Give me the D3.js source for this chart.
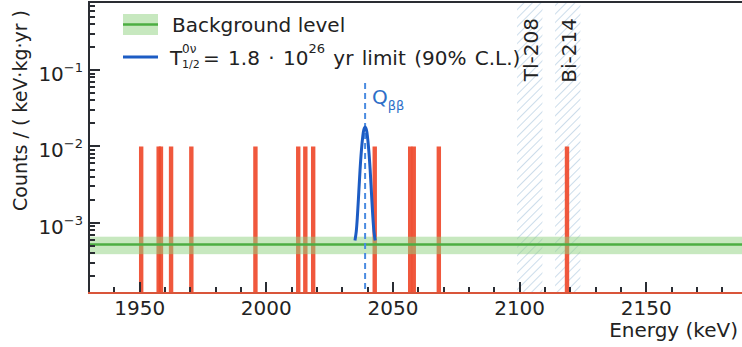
<!DOCTYPE html>
<html lang="en">
<head>
  <meta charset="UTF-8">
  <title>Energy spectrum</title>
  <style>
    body { margin: 0; background: #fff; }
    svg { display: block; font-family: "DejaVu Sans", sans-serif; }
  </style>
</head>
<body>
  <svg id="chart" width="742" height="347"></svg>
  <script src="https://d3js.org/d3.v7.min.js"></script>
  <script>
    // event energies (keV), each drawn as a bin reaching 1e-2
    const eventEnergies = [1950.6, 1957.5, 1958.4, 1962.4, 1970.4, 1995.7, 2012.6, 2015.4, 2018.5,
                           2042.8, 2056.8, 2058.2, 2068.1, 2118.7];
    const eventHeight = 1e-2;

    // background level with its band
    const bkgLevel = 5.2e-4;
    const bkgHigh = 6.6e-4;
    const bkgLow = 3.9e-4;

    // signal limit curve
    const peakEnergy = [2035, 2035.5, 2036, 2036.5, 2037, 2037.5, 2038, 2038.5, 2039,
                        2039.5, 2040, 2040.5, 2041, 2041.5, 2042, 2042.5, 2043];
    const peakCounts = [0.00059, 0.00077, 0.00128, 0.0025, 0.0049, 0.0085, 0.0128, 0.0166, 0.018,
                        0.0166, 0.0128, 0.0085, 0.0049, 0.0025, 0.00128, 0.00077, 0.00059];
    const qbb = 2039;

    // excluded gamma lines
    const vetoLabels = ["Tl-208", "Bi-214"];
    const vetoLow = [2099, 2114];
    const vetoHigh = [2109, 2124];

    const xMajorTicks = [1950, 2000, 2050, 2100, 2150];
    const yMajorTicks = [1e-3, 1e-2, 1e-1];
    const yTickExponents = ["\u22123", "\u22122", "\u22121"];

    const svg = d3.select("#chart");
    const pLeft = 89, pTop = 2, pBottom = 293, pRight = 747.6;
    const ink = "#222";
    const axisInk = "#2a2d33";

    const x = d3.scaleLinear().domain([1930, 2190]).range([pLeft, pRight]);
    const y = d3.scaleLog().domain([1.21e-4, 0.778]).range([pBottom, pTop]);

    const defs = svg.append("defs");
    const pat = defs.append("pattern")
      .attr("id", "hatch")
      .attr("patternUnits", "userSpaceOnUse")
      .attr("width", 6).attr("height", 6)
      .attr("patternTransform", "rotate(45)");
    pat.append("line")
      .attr("x1", 0).attr("y1", 0).attr("x2", 0).attr("y2", 6)
      .attr("stroke", "#a9c6de").attr("stroke-width", 1.2);

    defs.append("clipPath").attr("id", "plot")
      .append("rect").attr("x", pLeft).attr("y", pTop)
      .attr("width", pRight - pLeft).attr("height", pBottom - pTop);

    const plot = svg.append("g").attr("clip-path", "url(#plot)");

    // hatched veto bands
    plot.selectAll(".veto")
      .data(vetoLabels)
      .join("rect")
      .attr("class", "veto")
      .attr("x", (d, i) => x(vetoLow[i]))
      .attr("width", (d, i) => x(vetoHigh[i]) - x(vetoLow[i]))
      .attr("y", pTop)
      .attr("height", pBottom - pTop)
      .attr("fill", "url(#hatch)");

    // events
    plot.selectAll(".event")
      .data(eventEnergies)
      .join("rect")
      .attr("class", "event")
      .attr("x", d => x(d) - 2.2)
      .attr("width", 4.4)
      .attr("y", y(eventHeight))
      .attr("height", pBottom - y(eventHeight))
      .attr("fill", "#ef4a2c")
      .attr("opacity", 0.92);

    // background band and line
    plot.append("rect")
      .attr("x", pLeft).attr("width", pRight - pLeft)
      .attr("y", y(bkgHigh)).attr("height", y(bkgLow) - y(bkgHigh))
      .attr("fill", "#8fd27f").attr("opacity", 0.5);
    plot.append("line")
      .attr("x1", pLeft).attr("x2", pRight)
      .attr("y1", y(bkgLevel)).attr("y2", y(bkgLevel))
      .attr("stroke", "#4cae42").attr("stroke-width", 2.5);

    // Q value marker
    plot.append("line")
      .attr("x1", x(qbb)).attr("x2", x(qbb))
      .attr("y1", 83).attr("y2", pBottom)
      .attr("stroke", "#4a8be0").attr("stroke-width", 2)
      .attr("stroke-dasharray", "6,4");

    // limit curve
    const line = d3.line()
      .x((d, i) => x(peakEnergy[i]))
      .y(d => y(d))
      .curve(d3.curveCatmullRom);
    plot.append("path")
      .datum(peakCounts)
      .attr("d", line)
      .attr("fill", "none")
      .attr("stroke", "#1c5cc4")
      .attr("stroke-width", 3);

    // ticks, pointing into the frame (drawn as thin filled rects)
    const xMinor = d3.range(1930, 2191, 10).filter(v => v % 50 !== 0);
    const yMinor = y.ticks().filter(v => !yMajorTicks.some(m => Math.abs(v - m) < m * 1e-6));
    const ticks = svg.append("g").attr("fill", axisInk);
    ticks.selectAll(".xt")
      .data(xMinor.concat(xMajorTicks))
      .join("rect")
      .attr("class", "xt")
      .attr("x", d => Math.round(x(d)) - 1)
      .attr("width", 2)
      .attr("y", d => pBottom - (d % 50 === 0 ? 11 : 6))
      .attr("height", d => (d % 50 === 0 ? 11 : 6));
    ticks.selectAll(".yt")
      .data(yMinor.concat(yMajorTicks))
      .join("rect")
      .attr("class", "yt")
      .attr("y", d => Math.round(y(d)) - 1)
      .attr("height", 2)
      .attr("x", pLeft)
      .attr("width", (d, i) => (i >= yMinor.length ? 11 : 6));

    // x tick labels
    svg.selectAll(".xlab")
      .data(xMajorTicks)
      .join("text")
      .attr("class", "xlab")
      .attr("x", d => x(d))
      .attr("y", 315)
      .attr("text-anchor", "middle")
      .attr("font-size", 20)
      .attr("fill", ink)
      .text(d3.format("d"));

    // frame
    svg.append("rect").attr("x", pLeft - 1).attr("y", pTop - 1).attr("width", pRight - pLeft).attr("height", 2)
      .attr("fill", axisInk);
    svg.append("rect").attr("x", pLeft - 1).attr("y", pTop - 1).attr("width", 2).attr("height", pBottom - pTop + 1)
      .attr("fill", axisInk);
    svg.append("rect").attr("x", pLeft - 1).attr("y", pBottom - 1).attr("width", pRight - pLeft).attr("height", 2)
      .attr("fill", "#d9553a");

    const yLab = svg.selectAll(".ylab")
      .data(yMajorTicks)
      .join("text")
      .attr("class", "ylab")
      .attr("x", 83)
      .attr("y", d => y(d) + 11)
      .attr("text-anchor", "end")
      .attr("fill", ink);
    yLab.append("tspan").attr("font-size", 20).text("10");
    yLab.append("tspan").attr("font-size", 13).attr("dy", -9).text((d, i) => yTickExponents[i]);

    // axis titles
    svg.append("text")
      .attr("transform", "translate(27,10) rotate(-90)")
      .attr("text-anchor", "end")
      .attr("font-size", 19)
      .attr("fill", ink)
      .text("Counts / ( keV\u00b7kg\u00b7yr )");
    svg.append("text")
      .attr("x", 738).attr("y", 337)
      .attr("text-anchor", "end")
      .attr("font-size", 20)
      .attr("fill", ink)
      .text("Energy (keV)");

    // veto labels
    svg.selectAll(".vlab")
      .data(vetoLabels)
      .join("text")
      .attr("class", "vlab")
      .attr("transform", (d, i) => `translate(${(x(vetoLow[i]) + x(vetoHigh[i])) / 2 + 8},18) rotate(-90)`)
      .attr("text-anchor", "end")
      .attr("font-size", 20)
      .attr("fill", ink)
      .text(d => d);

    // Q label
    const q = svg.append("text").attr("x", 372).attr("y", 104).attr("fill", "#2e6fc8");
    q.append("tspan").attr("font-size", 20).text("Q");
    q.append("tspan").attr("font-size", 13).attr("dy", 6).text("\u03b2\u03b2");

    // legend
    const lg = svg.append("g").attr("fill", ink);
    lg.append("rect").attr("x", 123).attr("y", 14).attr("width", 35).attr("height", 21)
      .attr("fill", "#8fd27f").attr("opacity", 0.5);
    lg.append("line").attr("x1", 123).attr("x2", 158).attr("y1", 24.5).attr("y2", 24.5)
      .attr("stroke", "#4cae42").attr("stroke-width", 2.5);
    lg.append("line").attr("x1", 123).attr("x2", 158).attr("y1", 57).attr("y2", 57)
      .attr("stroke", "#1c5cc4").attr("stroke-width", 3);
    lg.append("text").attr("x", 172).attr("y", 32).attr("font-size", 20)
      .text("Background level");
    lg.append("text").attr("x", 170).attr("y", 65).attr("font-size", 20).text("T");
    lg.append("text").attr("x", 182).attr("y", 53).attr("font-size", 12).text("0\u03bd");
    lg.append("text").attr("x", 182).attr("y", 68).attr("font-size", 11).text("1/2");
    const t2 = lg.append("text").attr("x", 203).attr("y", 65).attr("font-size", 20)
      .attr("word-spacing", 2);
    t2.append("tspan").text("= 1.8 \u00b7 10");
    t2.append("tspan").attr("dy", -12).attr("font-size", 13).text("26");
    t2.append("tspan").attr("dy", 12).text(" yr limit (90% C.L.)");
  </script>
</body>
</html>
